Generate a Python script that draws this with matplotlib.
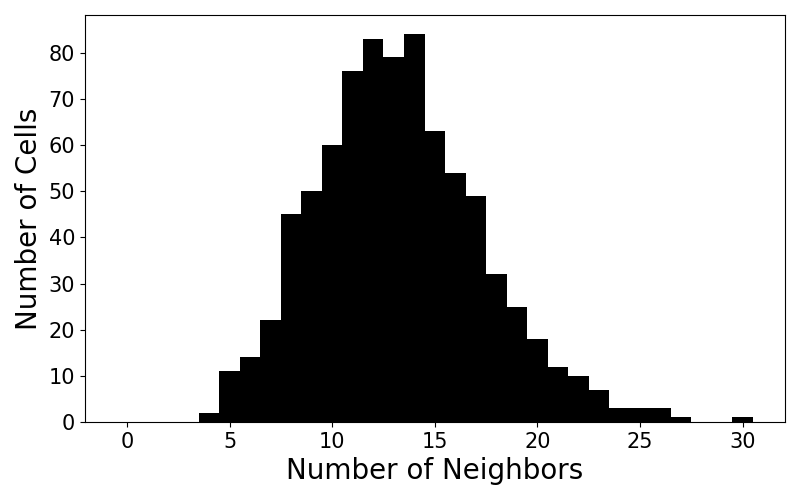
import matplotlib
matplotlib.use('Agg')
import matplotlib.pyplot as plt
import numpy as np

# Neighbor counts (integer) and number of cells with that count.
neighbors = list(range(0, 31))
cell_counts = [0, 0, 0, 0, 2, 11, 14, 22, 45, 50,
               60, 76, 83, 79, 84, 63, 54, 49, 32, 25,
               18, 12, 10, 7, 3, 3, 3, 1, 0, 0, 1]

fig, ax = plt.subplots(figsize=(8, 5), dpi=100)
bins = np.arange(-0.5, 31.5, 1)
ax.hist(neighbors, bins=bins, weights=cell_counts, color='black')
ax.set_xlabel('Number of Neighbors', fontsize=20)
ax.set_ylabel('Number of Cells', fontsize=20)
ax.tick_params(labelsize=15)
fig.subplots_adjust(left=0.106, right=0.981, top=0.97, bottom=0.156)
fig.savefig('out.png', dpi=100)
